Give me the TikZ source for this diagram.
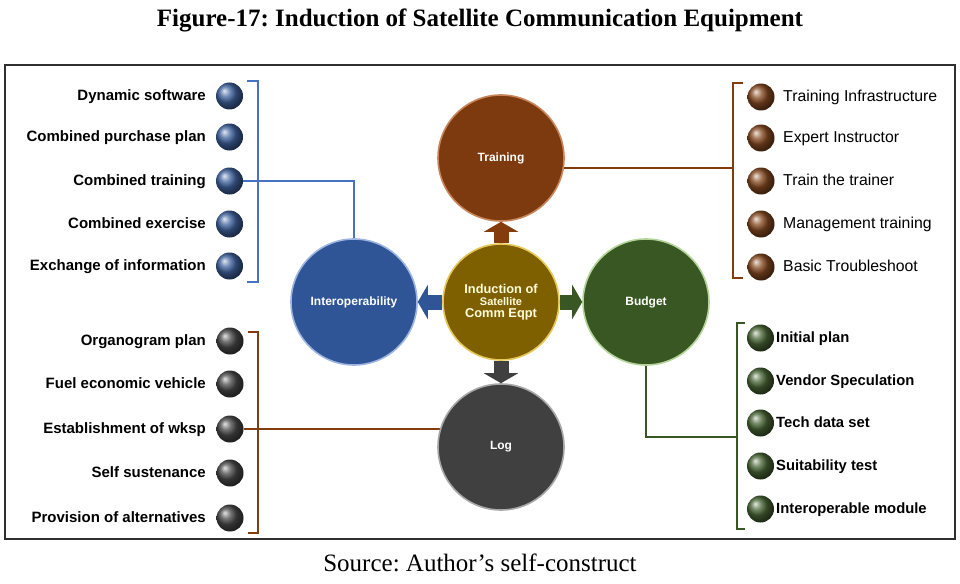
\documentclass[tikz,border=0pt]{standalone}
\usepackage{fontspec}
\setmainfont{Liberation Serif}
\setsansfont{Liberation Sans}
\usetikzlibrary{arrows.meta}
\pgfdeclarelayer{bg}
\pgfsetlayers{bg,main}
\frenchspacing
\definecolor{cbrown}{HTML}{7C3A0E}
\definecolor{cbrownrim}{HTML}{C8865A}
\definecolor{cblue}{HTML}{2F5597}
\definecolor{cbluerim}{HTML}{9DB5E0}
\definecolor{cgreen}{HTML}{385723}
\definecolor{cgreenrim}{HTML}{B4D49A}
\definecolor{cgray}{HTML}{404040}
\definecolor{cgrayrim}{HTML}{A8A8A8}
\definecolor{cctr}{HTML}{7F6000}
\definecolor{cctrrim}{HTML}{E6C85A}
\definecolor{lblue}{HTML}{4472C4}
\definecolor{lbrown}{HTML}{843C0C}
\definecolor{lgreen}{HTML}{375623}
\definecolor{framec}{HTML}{303030}
\tikzset{
  bigc/.style 2 args={circle, minimum size=126pt, inner sep=0pt, fill=#1, draw=#2,
    line width=1.6pt, text=white, align=center,
    font=\sffamily\bfseries\fontsize{12}{13}\selectfont},
  bul/.style={circle, minimum size=27pt, inner sep=0pt, ball color=#1},
  labB/.style={inner sep=0pt,
    font=\sffamily\bfseries\fontsize{15}{16}\selectfont},
  labG/.style={inner sep=0pt,
    font=\sffamily\bfseries\fontsize{14.8}{16}\selectfont},
  labR/.style={inner sep=0pt,
    font=\sffamily\fontsize{15.8}{17}\selectfont},
  brk/.style={draw=#1, line width=2.8pt, line join=miter},
  conn/.style={draw=#1, line width=2.8pt},
  barrow/.style={draw=#1, line width=15pt, -{Triangle[length=10pt, width=34pt]}}
}
\begin{document}
\begin{tikzpicture}[x=1pt,y=-1pt]
\useasboundingbox (0,0) rectangle (960,583);
\node[font=\bfseries\fontsize{25}{30}\selectfont] (title) at (480,20)
  {Figure-17: Induction of Satellite Communication Equipment};
\node[draw=framec, line width=2pt, minimum width=950pt, minimum height=474pt,
  inner sep=0pt] (frame) at (480,302) {};
\node[font=\fontsize{25}{30}\selectfont] (src) at (480,563)
  {Source: Author’s self-construct};

% main circles
\node[bigc={cctr}{cctrrim}, minimum size=116pt,
  font=\sffamily\bfseries\fontsize{12.8}{12}\selectfont, text=white!85!yellow] (ctr) at (501,302)
  {Induction of\\{\fontsize{11}{12}\selectfont Satellite}\\Comm Eqpt};
\node[bigc={cbrown}{cbrownrim}] (trn) at (501,158) {Training};
\node[bigc={cblue}{cbluerim}] (inter) at (354,302) {Interoperability};
\node[bigc={cgreen}{cgreenrim}] (bud) at (646,302) {Budget};
\node[bigc={cgray}{cgrayrim}] (log) at (501,447) {Log};

% bullets and labels
\foreach \yy/\t [count=\i] in {96/Dynamic software, 137/Combined purchase plan,
  181/Combined training, 224/Combined exercise, 266/Exchange of information}{
  \node[bul=cblue!92!white] (lb\i) at (229.5,\yy) {};
  \node[labB, anchor=mid east] (lbt\i) at (206,\yy+2.5) {\t};
}
\foreach \yy/\t [count=\i] in {341/Organogram plan, 384/Fuel economic vehicle,
  429/Establishment of wksp, 473/Self sustenance, 518/Provision of alternatives}{
  \node[bul=cgray!95!white] (gb\i) at (230,\yy) {};
  \node[labB, anchor=mid east] (gbt\i) at (206,\yy+2.5) {\t};
}
\foreach \yy/\t [count=\i] in {97/Training Infrastructure, 138/Expert Instructor,
  181/Train the trainer, 224/Management training, 267/Basic Troubleshoot}{
  \node[bul=cbrown!92!white] (rb\i) at (761,\yy) {};
  \node[labR, anchor=mid west] (rbt\i) at (783,\yy+2.5) {\t};
}
\foreach \yy/\t [count=\i] in {338/Initial plan, 381/Vendor Speculation,
  423/Tech data set, 466/Suitability test, 509/Interoperable module}{
  \node[bul=cgreen!92!white] (nb\i) at (760.5,\yy) {};
  \node[labG, anchor=mid west] (nbt\i) at (776,\yy+2.5) {\t};
}

% bracket coordinates
\coordinate (blT) at (258,81);  \coordinate (blB) at (258,282);
\coordinate (brT) at (733,83);  \coordinate (brB) at (733,278);
\coordinate (glT) at (258,332); \coordinate (glB) at (258,533);
\coordinate (grT) at (737,323); \coordinate (grB) at (737,529);
\coordinate (grM) at (737,437);

\begin{pgfonlayer}{bg}
  % brackets
  \draw[brk=lblue] ([xshift=-11pt]blT) -- (blT) -- (blB) -- ([xshift=-11pt]blB);
  \draw[brk=lbrown] ([xshift=10pt]brT) -- (brT) -- (brB) -- ([xshift=10pt]brB);
  \draw[brk=lbrown] ([xshift=-10pt]glT) -- (glT) -- (glB) -- ([xshift=-10pt]glB);
  \draw[brk=lgreen] ([xshift=8pt]grT) -- (grT) -- (grB) -- ([xshift=8pt]grB);
  % connectors
  \draw[conn=lblue] (lb3.east) -| (inter.north);
  \draw[conn=lbrown] (trn.-9) -- (trn.-9 -| brT);
  \draw[conn=lbrown] (gb3.east) -- (gb3.east -| log.center);
  \draw[conn=lgreen] (bud.south) |- (grM);
  % block arrows
  \draw[barrow=lbrown] (ctr) -- (trn);
  \draw[barrow=cblue] (ctr) -- (inter);
  \draw[barrow=cgreen] (ctr) -- (bud);
  \draw[barrow=cgray] (ctr) -- (log);
\end{pgfonlayer}
\end{tikzpicture}
\end{document}
